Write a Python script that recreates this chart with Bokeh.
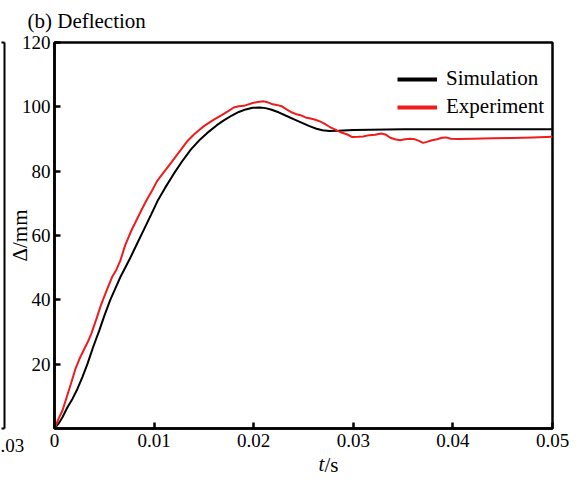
import numpy as np
from bokeh.plotting import figure
from bokeh.models import (FixedTicker, Legend, LegendItem, LinearAxis, Title)
from bokeh.embed import file_html
from bokeh.resources import INLINE

# ---- data ----
sim_t = [0, 0.0004, 0.0008, 0.0013, 0.0018, 0.0023, 0.0028, 0.0033, 0.0039, 0.0045,
         0.0050, 0.0056, 0.0061, 0.0066, 0.0071, 0.0076, 0.0083, 0.009, 0.0097,
         0.01034, 0.0111, 0.012, 0.0128, 0.01368, 0.0146, 0.0155, 0.0163, 0.017,
         0.0178, 0.0185, 0.0192, 0.0199, 0.0206, 0.0212, 0.0218, 0.0225, 0.0232,
         0.024, 0.0248, 0.0256, 0.0263, 0.0269, 0.0276, 0.0285, 0.03, 0.035,
         0.04, 0.045, 0.05]
sim_v = [0, 1.5, 3.5, 6.6, 9.2, 12.3, 16, 20, 25.5, 30.5,
         35, 40, 43.5, 47, 50, 53, 57.5, 62, 66.5,
         70.7, 74.8, 79.3, 83, 86.7, 89.8, 92.3, 94.3, 95.8,
         97.3, 98.4, 99.2, 99.7, 99.8, 99.6, 99.1, 98.3, 97.3,
         96.2, 95.1, 94.0, 93.2, 92.7, 92.5, 92.6, 92.8, 93.0,
         93.0, 93.0, 93.0]

exp_t = [0, 0.0004, 0.0008, 0.0012, 0.00165, 0.0021, 0.0025, 0.003, 0.0034, 0.0037,
         0.0042, 0.0047, 0.0053, 0.0058, 0.0062, 0.0066, 0.0071, 0.0077, 0.0083,
         0.0088, 0.0092, 0.0098, 0.0103, 0.011, 0.0117, 0.0122, 0.0127, 0.0133,
         0.014, 0.0145, 0.015, 0.0155, 0.016, 0.0167, 0.0174, 0.018, 0.0185,
         0.019, 0.0194, 0.0199, 0.0204, 0.021, 0.0214, 0.0218, 0.0223, 0.0228,
         0.0233, 0.0238, 0.0242, 0.0247, 0.0252, 0.0257, 0.0262, 0.0267, 0.0271,
         0.0276, 0.0282, 0.0288, 0.0294, 0.0299, 0.0305, 0.031, 0.0316, 0.0322,
         0.0328, 0.0333, 0.0337, 0.0342, 0.0347, 0.0352, 0.0357, 0.0362, 0.0366,
         0.037, 0.0374, 0.0379, 0.0384, 0.0389, 0.0393, 0.0398, 0.0405, 0.042,
         0.044, 0.046, 0.048, 0.05]
exp_v = [0, 3.0, 5.6, 9.5, 13.9, 18.5, 21.6, 24.8, 27.3, 29.5,
         34, 38.7, 43.4, 47.2, 49.3, 52.1, 57, 61.4, 65.2,
         68.3, 70.7, 74, 76.9, 79.8, 82.6, 84.7, 86.7, 89.2,
         91.4, 92.7, 94.0, 95.0, 96.0, 97.3, 98.6, 99.8, 100.2,
         100.3, 100.7, 101.2, 101.5, 101.7, 101.4, 100.9, 100.6, 100.2,
         99.2, 98.3, 97.8, 97.4, 96.7, 96.4, 96.0, 95.4, 94.8,
         93.8, 92.9, 92.0, 91.4, 90.6, 90.7, 90.8, 91.2, 91.3,
         91.7, 91.3, 90.4, 89.9, 89.6, 89.9, 90.1, 89.9, 89.4,
         88.8, 89.1, 89.6, 89.9, 90.4, 90.5, 90.1, 90.0, 90.1,
         90.2, 90.3, 90.5, 90.7]

x_ticks = [0, 0.01, 0.02, 0.03, 0.04, 0.05]
x_tick_labels = ["0", "0.01", "0.02", "0.03", "0.04", "0.05"]
y_ticks = [20, 40, 60, 80, 100, 120]
# edge of neighbouring panel (a): its frame corners
frag_ticks = [0, 120]
frag_labels = ["", ""]

FONT = "Liberation Serif"
RED = "#ee1c1c"

p = figure(width=580, height=480, x_range=(0, 0.05), y_range=(0, 120),
           output_backend="svg", toolbar_location=None,
           min_border_left=54, min_border_right=28,
           min_border_top=42, min_border_bottom=52)
p.grid.visible = False
p.outline_line_color = "black"
p.outline_line_width = 2.5
p.background_fill_color = "white"
p.border_fill_color = "white"

p.title.text = "(b) Deflection"
p.title.align = "left"
p.title.offset = -27
p.title.vertical_align = "top"
p.title.text_font = FONT
p.title.text_font_size = "21px"
p.title.text_font_style = "normal"
p.title.text_color = "black"
p.title.standoff = 15

xaxis = p.below[0]
yaxis = p.left[0]
xaxis.ticker = FixedTicker(ticks=x_ticks)
xaxis.major_label_overrides = dict(zip(x_ticks, x_tick_labels))
yaxis.ticker = FixedTicker(ticks=y_ticks)
for ax in (xaxis, yaxis):
    ax.major_tick_in = 6
    ax.major_tick_out = 0
    ax.minor_tick_line_color = None
    ax.axis_line_width = 2.5
    ax.major_tick_line_width = 2.5
    ax.major_label_text_font = FONT
    ax.major_label_text_font_size = "19px"
    ax.major_label_text_color = "black"
    ax.major_label_standoff = 5
yaxis.major_label_standoff = 4
yaxis.axis_label = "Δ/mm"
yaxis.axis_label_standoff = -13
yaxis.axis_label_text_font = FONT
yaxis.axis_label_text_font_size = "21px"
yaxis.axis_label_text_font_style = "normal"
yaxis.axis_label_text_color = "black"

# fragment of panel (a) at the far left
frag = LinearAxis(ticker=FixedTicker(ticks=frag_ticks),
                  major_label_overrides=dict(zip(frag_ticks, frag_labels)),
                  axis_line_width=2, major_tick_out=3, major_tick_in=0,
                  major_tick_line_width=2, minor_tick_line_color=None,
                  major_label_standoff=0, major_label_text_font_size="1px")
p.add_layout(frag, "left")

# x-axis title: italic "t" followed by upright "/s" on the same line
p.add_layout(Title(text="t", align="left", offset=264, text_font=FONT,
                   text_font_size="21px", text_font_style="italic",
                   text_color="black", standoff=0), "below")
p.add_layout(Title(text="/s", align="left", offset=270, vertical_align="top",
                   text_font=FONT, text_font_size="21px",
                   text_font_style="normal", text_color="black",
                   standoff=-46), "below")
# last tick label of panel (a), shown at the far left
p.add_layout(Title(text=".03", align="left", offset=-54, vertical_align="top",
                   text_font=FONT, text_font_size="19px",
                   text_font_style="normal", text_color="black",
                   standoff=-74), "below")

p.line(sim_t, sim_v, line_color="black", line_width=2)
p.line(exp_t, exp_v, line_color=RED, line_width=2)

# legend swatches (thicker lines, no visible data)
r_sim = p.line([np.nan, np.nan], [np.nan, np.nan], line_color="black", line_width=4)
r_exp = p.line([np.nan, np.nan], [np.nan, np.nan], line_color=RED, line_width=4)
legend = Legend(items=[LegendItem(label="Simulation", renderers=[r_sim]),
                       LegendItem(label="Experiment", renderers=[r_exp])],
                location=(343, 309), border_line_color=None,
                background_fill_alpha=0, padding=0, margin=0, spacing=3,
                label_height=24, glyph_height=24, glyph_width=40,
                label_standoff=9, label_text_font=FONT,
                label_text_font_size="21px", label_text_color="black")
p.add_layout(legend)

open("out.html", "w").write(file_html(p, INLINE))
